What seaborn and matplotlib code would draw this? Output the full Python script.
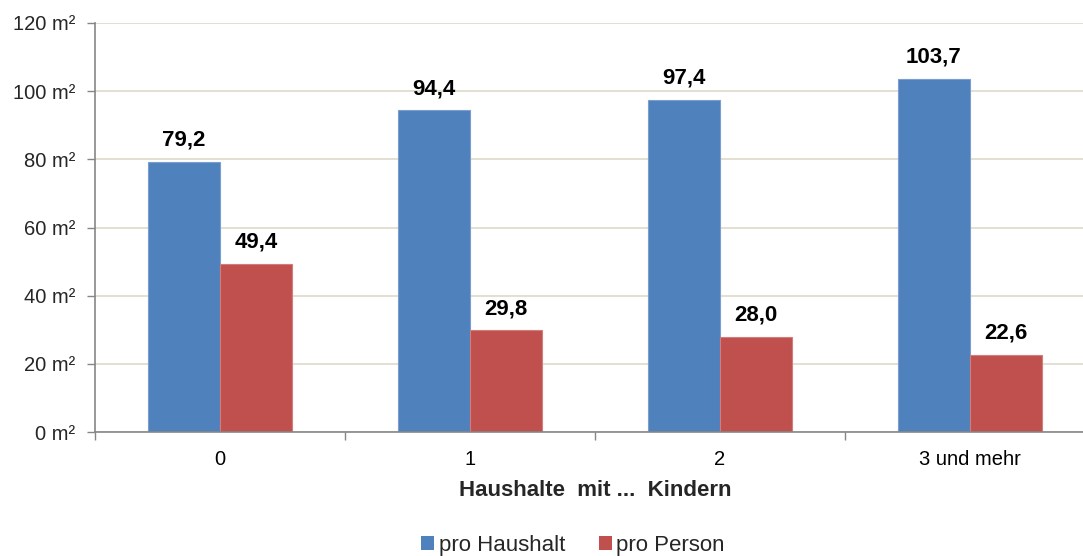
import matplotlib
matplotlib.use("Agg")
import matplotlib.pyplot as plt
from matplotlib.patches import Patch
from matplotlib.ticker import FixedLocator
import pandas as pd
import seaborn as sns

categories = ["0", "1", "2", "3 und mehr"]
series = ["pro Haushalt", "pro Person"]
pro_haushalt = [79.2, 94.4, 97.4, 103.7]
pro_person = [49.4, 29.8, 28.0, 22.6]
y_ticks = [0, 20, 40, 60, 80, 100, 120]

colors = ["#4F81BD", "#C0504D"]
edges = ["#7A9FCF", "#D27D7B"]

df = pd.DataFrame({
    "Kinder": categories * 2,
    "Serie": [series[0]] * 4 + [series[1]] * 4,
    "Fläche": pro_haushalt + pro_person,
})

sns.set_theme(style="white")
plt.rcParams["font.family"] = ["Liberation Sans", "DejaVu Sans"]

W, H = 1083, 556
fig = plt.figure(figsize=(W / 100, H / 100), dpi=100)
ax = fig.add_axes([95 / W, 1 - 432 / H, 1000 / W, (432 - 23) / H])

sns.barplot(data=df, x="Kinder", y="Fläche", hue="Serie", order=categories,
            hue_order=series, palette=colors, saturation=1, width=0.576,
            gap=0, legend=False, ax=ax)

for cont, ec, vals in zip(ax.containers, edges, [pro_haushalt, pro_person]):
    for bar in cont:
        bar.set_edgecolor(ec)
        bar.set_linewidth(0.8)
    ax.bar_label(cont, labels=[f"{v:.1f}".replace(".", ",") for v in vals],
                 padding=8, fontsize=16, fontweight="bold", color="black")

ax.set_xlim(-0.5, 3.5)
ax.set_ylim(0, 120)
ax.set_yticks(y_ticks)
ax.set_yticklabels([f"{v} m²" for v in y_ticks])
ax.yaxis.grid(True, color="#DEDACA", linewidth=1.2)
ax.set_axisbelow(True)

ax.xaxis.set_minor_locator(FixedLocator([-0.5, 0.5, 1.5, 2.5, 3.5]))
ax.tick_params(axis="x", which="major", length=0, labelsize=14.5, pad=13,
               colors="black")
ax.tick_params(axis="x", which="minor", length=6, width=1, color="#868686",
               direction="out", bottom=True)
ax.tick_params(axis="y", length=6, width=1, color="#868686", labelsize=14.5,
               pad=8, left=True, direction="out")

for side in ["top", "right"]:
    ax.spines[side].set_visible(False)
for side in ["left", "bottom"]:
    ax.spines[side].set_color("#868686")
    ax.spines[side].set_linewidth(1.2)

ax.set_xlabel("Haushalte  mit ...  Kindern", fontsize=16, fontweight="bold",
              labelpad=8)
ax.set_ylabel("")

handles = [Patch(facecolor=c, edgecolor="none") for c in colors]
fig.legend(handles, series, loc="center", bbox_to_anchor=(573 / W, 1 - 545 / H),
           ncol=2, frameon=False, fontsize=16, handlelength=0.6,
           handleheight=0.6, handletextpad=0.2, columnspacing=1.5)

fig.savefig("out.png", dpi=100)
